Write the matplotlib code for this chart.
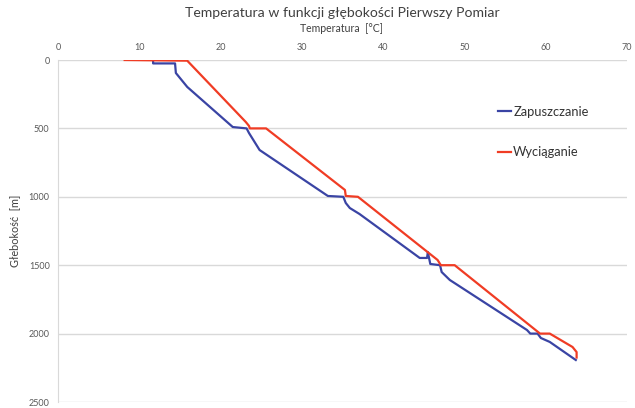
import matplotlib
matplotlib.use("Agg")
import matplotlib.pyplot as plt

plt.rcParams['font.family'] = ['Lato', 'DejaVu Sans']

# Zapuszczanie (sonda w dół)
zap_temp = [11.7, 11.7, 14.4, 14.5, 15.9, 21.5, 23.2, 23.5, 24.8, 33.2, 35.1, 35.4,
            35.9, 37.1, 44.5, 45.4, 45.5, 45.8, 47.0, 47.2, 48.2, 57.7, 58.1, 59.0,
            59.4, 60.5, 63.7]
zap_depth = [5, 25, 25, 95, 197, 490, 500, 534, 658, 994, 1000, 1045,
             1082, 1126, 1447, 1447, 1404, 1491, 1500, 1550, 1608, 1974, 2000, 2000,
             2032, 2061, 2193]

# Wyciąganie (sonda w górę)
wyc_temp = [8.2, 15.9, 23.1, 23.5, 23.6, 25.6, 35.3, 35.4, 36.9, 46.7, 47.1, 48.8,
            58.9, 59.3, 60.5, 63.3, 63.8, 63.8]
wyc_depth = [0, 5, 453, 482, 500, 500, 950, 994, 1000, 1462, 1500, 1500,
             1981, 2000, 2000, 2098, 2135, 2175]

x_ticks = [0, 10, 20, 30, 40, 50, 60, 70]
y_ticks = [0, 500, 1000, 1500, 2000, 2500]

fig = plt.figure(figsize=(6.35, 4.08), dpi=100)
ax = fig.add_axes([58 / 635, 1 - 402 / 408, (627 - 58) / 635, (402 - 60) / 408])

ax.plot(zap_temp, zap_depth, color='#3a44a4', lw=1.6, label='Zapuszczanie')
ax.plot(wyc_temp, wyc_depth, color='#f03c24', lw=1.6, label='Wyciąganie')

ax.set_xlim(0, 70)
ax.set_ylim(2500, 0)
ax.set_xticks(x_ticks)
ax.set_yticks(y_ticks)
ax.xaxis.tick_top()
ax.tick_params(length=0, labelsize=6.5, labelcolor='#595959', pad=6)
ax.yaxis.grid(True, color='#d9d9d9', lw=1)
ax.set_axisbelow(True)
for s in ['top', 'right', 'bottom']:
    ax.spines[s].set_visible(False)
ax.spines['left'].set_color('#d9d9d9')

fig.text(342 / 635, 1 - 13 / 408, 'Temperatura w funkcji głębokości Pierwszy Pomiar',
         ha='center', va='center', fontsize=10.1, color='#404040')
fig.text(341 / 635, 1 - 29 / 408, 'Temperatura  [°C]',
         ha='center', va='center', fontsize=7.6, color='#404040')
fig.text(15 / 635, 1 - 231 / 408, 'Głebokość  [m]', rotation=90,
         ha='center', va='center', fontsize=7.8, color='#404040')

ax.legend(loc='upper left', bbox_to_anchor=(486 / 635, 1 - 94 / 408),
          bbox_transform=fig.transFigure, frameon=False, fontsize=9.3,
          handlelength=1.0, handletextpad=0.2, labelspacing=2.2,
          labelcolor='#333333')

fig.savefig('out.png', dpi=100, facecolor='white')
